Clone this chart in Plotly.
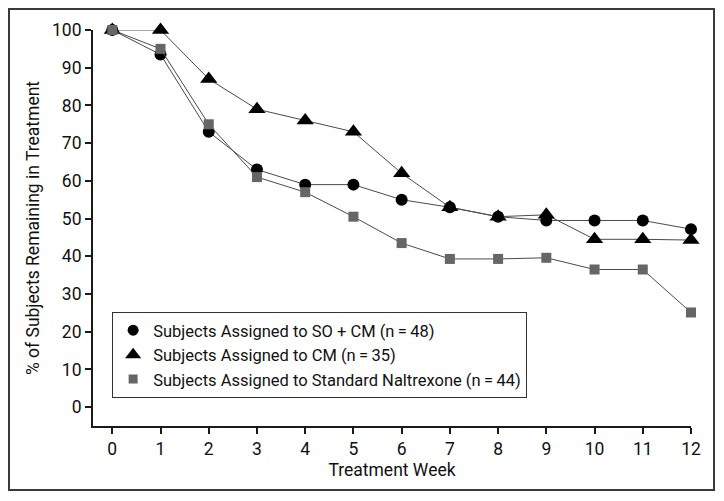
import plotly.graph_objects as go

weeks = list(range(13))
so_cm = [100, 93.5, 73, 63, 59, 59, 55, 53, 50.5, 49.5, 49.5, 49.5, 47.2]
cm_only = [100, 100, 87, 79, 76, 73, 62, 53, 50.5, 51, 44.5, 44.5, 44.3]
naltrexone = [100, 95, 75, 61, 57, 50.5, 43.5, 39.3, 39.3, 39.6, 36.5, 36.5, 25.1]

names = [
    "Subjects Assigned to SO + CM (n\u2009=\u200948)",
    "Subjects Assigned to CM (n\u2009=\u200935)",
    "Subjects Assigned to Standard Naltrexone (n\u2009=\u200944)",
]
symbols = ["circle", "triangle-up", "square"]
sizes = [12, 15, 10]
colors = ["black", "black", "#666666"]

FONT = "Roboto, Liberation Sans, sans-serif"
LINE = "#4a4a4a"

fig = go.Figure()
for vals, sym, sz, col in zip([so_cm, cm_only, naltrexone], symbols, sizes, colors):
    fig.add_trace(go.Scatter(
        x=weeks, y=vals, mode="lines+markers", showlegend=False,
        line=dict(color=LINE, width=1),
        marker=dict(symbol=sym, size=sz, color=col),
        cliponaxis=False
    ))

# legend entries show only the marker, no line
for name, sym, sz, col in zip(names, symbols, sizes, colors):
    fig.add_trace(go.Scatter(
        x=[None], y=[None], mode="markers", name=name,
        marker=dict(symbol=sym, size=sz - 1, color=col)
    ))

# body has 8px margin in the page, so shrink the figure to fit the window
W, H = 716, 493
l, r, t, b = 85, 33, 22, 75
pw, ph = W - l - r, H - t - b

# outer frame (page coords 9..714 x 9..490)
fig.add_shape(type="rect", xref="paper", yref="paper",
              x0=(1 - l) / pw, x1=(706 - l) / pw,
              y0=1 - (482 - t) / ph, y1=1 - (1 - t) / ph,
              line=dict(color="#3a3a3a", width=2))

fig.update_layout(
    width=W, height=H,
    template="plotly_white",
    plot_bgcolor="white", paper_bgcolor="white",
    font=dict(family=FONT, size=17, color="#111111"),
    margin=dict(l=l, r=r, t=t, b=b),
    showlegend=True,
    legend=dict(
        x=0.032, y=0.288, xanchor="left", yanchor="top",
        bordercolor="#333333", borderwidth=1, bgcolor="white",
        font=dict(size=16.5), tracegroupgap=0, itemwidth=30,
    ),
    xaxis=dict(
        range=[-0.4, 12], tickmode="array", tickvals=weeks,
        showgrid=False, zeroline=False,
        showline=True, linecolor="#1a1a1a", linewidth=2,
        ticks="outside", ticklen=6, tickwidth=1.5, tickcolor="#1a1a1a",
        tickfont=dict(size=17.5),
        title=dict(text="Treatment Week", standoff=6, font=dict(size=17.5)),
    ),
    yaxis=dict(
        range=[-5, 100], tickmode="array", tickvals=list(range(0, 101, 10)),
        showgrid=False, zeroline=False,
        showline=True, linecolor="#1a1a1a", linewidth=2,
        ticks="outside", ticklen=6, tickwidth=1.5, tickcolor="#1a1a1a",
        tickfont=dict(size=17.5),
        title=dict(text="% of Subjects Remaining in Treatment", standoff=8,
                   font=dict(size=17.5)),
    ),
)

fig.write_html("out.html")
